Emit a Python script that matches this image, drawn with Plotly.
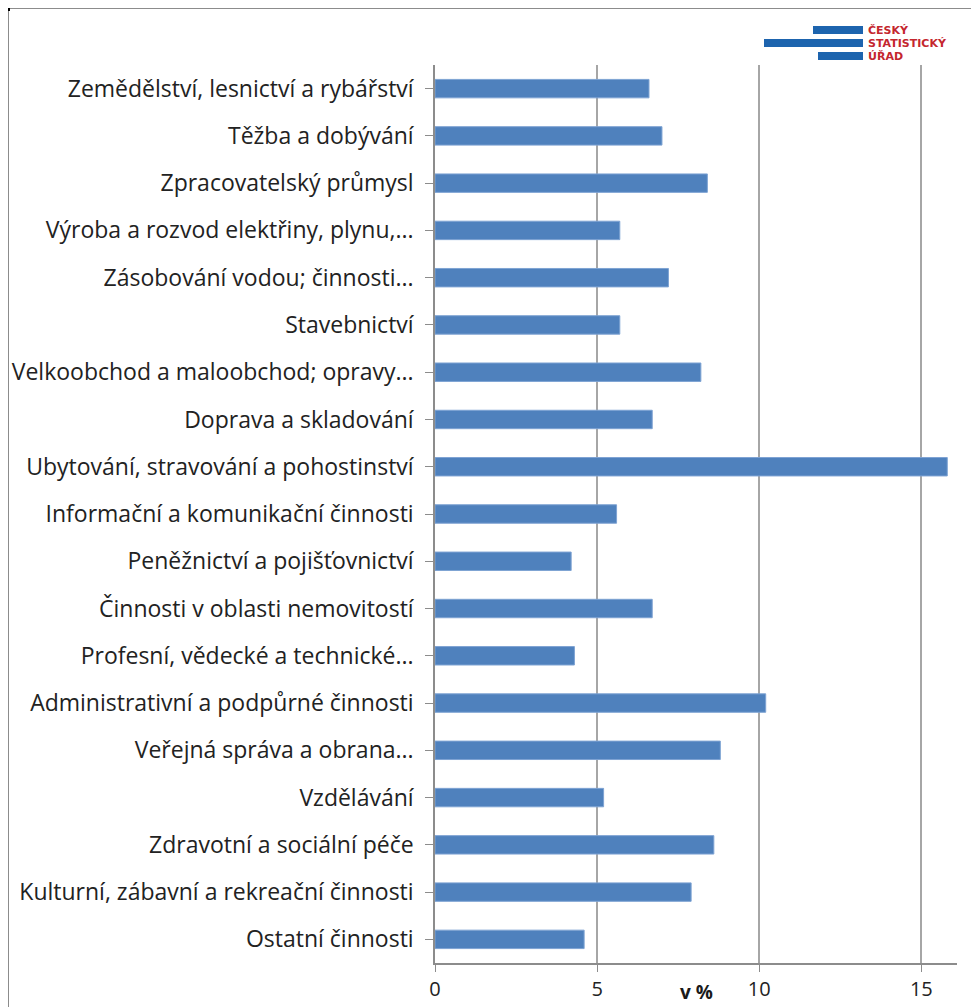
import plotly.graph_objects as go

categories = [
    "Zemědělství, lesnictví a rybářství",
    "Těžba a dobývání",
    "Zpracovatelský průmysl",
    "Výroba a rozvod elektřiny, plynu,...",
    "Zásobování vodou; činnosti...",
    "Stavebnictví",
    "Velkoobchod a maloobchod; opravy...",
    "Doprava a skladování",
    "Ubytování, stravování a pohostinství",
    "Informační a komunikační činnosti",
    "Peněžnictví a pojišťovnictví",
    "Činnosti v oblasti nemovitostí",
    "Profesní, vědecké a technické...",
    "Administrativní a podpůrné činnosti",
    "Veřejná správa a obrana...",
    "Vzdělávání",
    "Zdravotní a sociální péče",
    "Kulturní, zábavní a rekreační činnosti",
    "Ostatní činnosti",
]
values = [6.6, 7.0, 8.4, 5.7, 7.2, 5.7, 8.2, 6.7, 15.8, 5.6,
          4.2, 6.7, 4.3, 10.2, 8.8, 5.2, 8.6, 7.9, 4.6]
x_ticks = [0, 5, 10, 15]
axis_title = "v %"
logo_lines = ["ČESKÝ", "STATISTICKÝ", "ÚŘAD"]

OFF = 8  # page body margin
W, H = 979 - OFF, 1007 - OFF
# plot area in screen pixels
SL, SR, ST, SB = 435, 957, 65, 963
L, R, T, B = SL - OFF, SR - OFF, ST - OFF, SB - OFF


def px(x):
    return (x - SL) / (SR - SL)


def py(y):
    return (SB - y) / (SB - ST)


fig = go.Figure(go.Bar(
    x=values, y=categories, orientation="h",
    marker=dict(color="#4f81bd", line=dict(color="#7ea3d3", width=1)),
))

shapes = []
# outer frame
shapes.append(dict(type="line", xref="paper", yref="paper",
                   x0=px(8), x1=px(990), y0=py(8), y1=py(8),
                   line=dict(color="#8c8c8c", width=2)))
shapes.append(dict(type="line", xref="paper", yref="paper",
                   x0=px(8), x1=px(8), y0=py(8), y1=py(1020),
                   line=dict(color="#8c8c8c", width=2)))
# small dark mark at the top-left corner
shapes.append(dict(type="rect", xref="paper", yref="paper",
                   x0=px(8), x1=px(10), y0=py(11), y1=py(8),
                   fillcolor="#000000", line=dict(width=0)))
# logo bars
for (x0, x1, y0, y1) in [(813, 863, 26, 34), (764, 863, 39, 47), (818, 863, 52, 60)]:
    shapes.append(dict(type="rect", xref="paper", yref="paper",
                       x0=px(x0), x1=px(x1), y0=py(y1), y1=py(y0),
                       fillcolor="#1d64ae", line=dict(width=0)))

annotations = []
for i, t in enumerate(logo_lines):
    annotations.append(dict(text=t, xref="paper", yref="paper",
                            x=px(866), y=py(30.5 + 13 * i), xanchor="left", yanchor="middle",
                            showarrow=False,
                            font=dict(family="DejaVu Sans", size=11, color="#c4262e", weight="bold")))
annotations.append(dict(text=axis_title, xref="paper", yref="paper",
                        x=px(696), y=py(1007), xanchor="center", yanchor="bottom",
                        showarrow=False,
                        font=dict(family="Open Sans", size=19, color="#1a1a1a", weight="bold")))

fig.update_layout(
    width=W, height=H,
    margin=dict(l=L, r=W - R, t=T, b=H - B, pad=0),
    paper_bgcolor="white", plot_bgcolor="white",
    showlegend=False,
    bargap=0.61,
    font=dict(family="Open Sans", size=23, color="#222222"),
    shapes=shapes,
    annotations=annotations,
    xaxis=dict(range=[0, 16.1], tickvals=x_ticks, ticktext=[str(v) for v in x_ticks],
               showgrid=True, gridcolor="#a6a6a6", gridwidth=1.5,
               showline=True, linecolor="#8c8c8c", linewidth=1.5,
               ticks="outside", ticklen=7, tickcolor="#8c8c8c",
               zeroline=False, tickfont=dict(size=20), automargin=False),
    yaxis=dict(categoryorder="array", categoryarray=categories[::-1],
               showline=True, linecolor="#8c8c8c", linewidth=1.5,
               ticks="outside", ticklen=8, tickcolor="#8c8c8c",
               showgrid=False, zeroline=False, ticklabelstandoff=7, automargin=False),
)

fig.write_html("out.html")
